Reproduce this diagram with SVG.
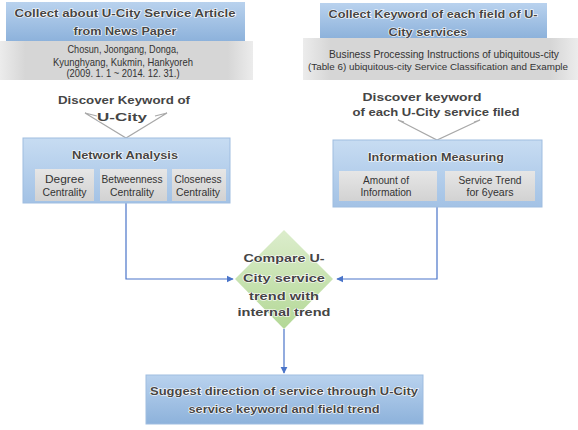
<svg xmlns="http://www.w3.org/2000/svg" width="578" height="430" viewBox="0 0 578 430">
<defs>
<linearGradient id="blue" x1="0" y1="0" x2="0" y2="1"><stop offset="0" stop-color="#b9d2ee"/><stop offset="1" stop-color="#8db2db"/></linearGradient>
<linearGradient id="blue2" x1="0" y1="0" x2="0" y2="1"><stop offset="0" stop-color="#c7dcf2"/><stop offset="1" stop-color="#a3c2e5"/></linearGradient>
<linearGradient id="gray" x1="0" y1="0" x2="1" y2="0"><stop offset="0" stop-color="#ececec"/><stop offset="0.1" stop-color="#d6d6d6"/><stop offset="0.9" stop-color="#d6d6d6"/><stop offset="1" stop-color="#ececec"/></linearGradient>
<linearGradient id="sub" x1="0" y1="0" x2="0" y2="1"><stop offset="0" stop-color="#e6e6e6"/><stop offset="1" stop-color="#d2d2d2"/></linearGradient>
<linearGradient id="green" x1="0" y1="0" x2="0" y2="1"><stop offset="0" stop-color="#dcedcc"/><stop offset="1" stop-color="#b3d896"/></linearGradient>
<marker id="ah" viewBox="0 0 10 10" refX="9" refY="5" markerWidth="6" markerHeight="6" orient="auto"><path d="M0,0 L10,5 L0,10 z" fill="#4a74c9"/></marker>
</defs>
<style>
.t{font-family:"Liberation Sans",Arial,sans-serif;font-weight:bold;fill:#454545;stroke:#ffffff;stroke-width:1.2;paint-order:stroke;text-anchor:middle}
.h{font-size:11px}
.n{font-family:"Liberation Sans",Arial,sans-serif;fill:#333;font-size:11px;text-anchor:middle}
.d{font-size:11.5px}
.c{fill:none;stroke:#4a74c9;stroke-width:1.2}
.chev{fill:none;stroke:#a8a8a8;stroke-width:1.2}
</style>
<g id="connectors">
<path class="c" d="M126,203 V279 H233" marker-end="url(#ah)"/>
<path class="c" d="M437,207 V279 H337" marker-end="url(#ah)"/>
<path class="c" d="M284,329 V373" marker-end="url(#ah)"/>
</g>
<g id="chevron-left">
<path class="chev" d="M97,116 L85,113 L126,138 L167,113 L155,116"/>
<text class="t h" x="124" y="104" textLength="132" lengthAdjust="spacingAndGlyphs">Discover Keyword of</text>
<text class="t h" x="122" y="121" textLength="50" lengthAdjust="spacingAndGlyphs">U-City</text>
</g>
<g id="chevron-right">
<path class="chev" d="M404,122 L398,120 L437,140 L480,120 L474,122"/>
<text class="t h" x="422" y="101" textLength="119" lengthAdjust="spacingAndGlyphs">Discover keyword</text>
<text class="t h" x="436" y="116" textLength="167" lengthAdjust="spacingAndGlyphs">of each U-City service filed</text>
</g>
<g id="collect-news">
<rect x="6" y="2" width="239" height="39" fill="url(#blue)"/>
<text class="t h" x="125" y="17" textLength="221" lengthAdjust="spacingAndGlyphs">Collect about U-City Service Article</text>
<text class="t h" x="125" y="35" textLength="103" lengthAdjust="spacingAndGlyphs">from News Paper</text>
</g>
<g id="news-sources">
<rect x="0" y="41" width="253" height="39" fill="url(#gray)"/>
<text class="n" x="123" y="53" textLength="111" lengthAdjust="spacingAndGlyphs">Chosun, Joongang, Donga,</text>
<text class="n" x="123" y="66" textLength="140" lengthAdjust="spacingAndGlyphs">Kyunghyang, Kukmin, Hankyoreh</text>
<text class="n" x="123" y="77" textLength="113" lengthAdjust="spacingAndGlyphs">(2009. 1. 1 ~ 2014. 12. 31.)</text>
</g>
<g id="collect-keyword">
<rect x="320" y="3" width="227" height="35" fill="url(#blue)"/>
<text class="t h" x="433" y="18" textLength="209" lengthAdjust="spacingAndGlyphs">Collect Keyword of each field of U-</text>
<text class="t h" x="428" y="36" textLength="79" lengthAdjust="spacingAndGlyphs">City services</text>
</g>
<g id="keyword-sources">
<rect x="303" y="38" width="275" height="42" fill="url(#gray)"/>
<text class="n" x="444" y="58" textLength="230" lengthAdjust="spacingAndGlyphs">Business Processing Instructions of ubiquitous-city</text>
<text class="n" x="438" y="70" style="font-size:9.5px" textLength="260" lengthAdjust="spacingAndGlyphs">(Table 6) ubiquitous-city Service Classification and Example</text>
</g>
<g id="network-analysis">
<rect x="23" y="138" width="207" height="65" fill="url(#blue2)" stroke="#9fbde0" stroke-width="1"/>
<text class="t h" x="125" y="159" textLength="106" lengthAdjust="spacingAndGlyphs">Network Analysis</text>
<rect x="35" y="169" width="59" height="32" fill="url(#sub)"/>
<text class="n" x="64.5" y="183" textLength="39" lengthAdjust="spacingAndGlyphs">Degree</text>
<text class="n" x="64.5" y="196" textLength="44" lengthAdjust="spacingAndGlyphs">Centrality</text>
<rect x="100" y="169" width="67" height="32" fill="url(#sub)"/>
<text class="n" x="132" y="183" textLength="61" lengthAdjust="spacingAndGlyphs">Betweenness</text>
<text class="n" x="132" y="196" textLength="44" lengthAdjust="spacingAndGlyphs">Centrality</text>
<rect x="172" y="169" width="54" height="32" fill="url(#sub)"/>
<text class="n" x="198" y="183" textLength="47" lengthAdjust="spacingAndGlyphs">Closeness</text>
<text class="n" x="198" y="196" textLength="44" lengthAdjust="spacingAndGlyphs">Centrality</text>
</g>
<g id="information-measuring">
<rect x="333" y="140" width="209" height="67" fill="url(#blue2)" stroke="#9fbde0" stroke-width="1"/>
<text class="t h" x="436" y="161" textLength="136" lengthAdjust="spacingAndGlyphs">Information Measuring</text>
<rect x="339" y="171" width="98" height="30" fill="url(#sub)"/>
<text class="n" x="386" y="184" textLength="46" lengthAdjust="spacingAndGlyphs">Amount of</text>
<text class="n" x="386" y="196" textLength="51" lengthAdjust="spacingAndGlyphs">Information</text>
<rect x="445" y="171" width="90" height="30" fill="url(#sub)"/>
<text class="n" x="490" y="184" textLength="63" lengthAdjust="spacingAndGlyphs">Service Trend</text>
<text class="n" x="490" y="196" textLength="47" lengthAdjust="spacingAndGlyphs">for 6years</text>
</g>
<g id="compare">
<polygon points="284,230 333,279 284,329 235,279" fill="url(#green)"/>
<text class="t d" x="284" y="262" textLength="81" lengthAdjust="spacingAndGlyphs">Compare U-</text>
<text class="t d" x="284" y="282" textLength="82" lengthAdjust="spacingAndGlyphs">City service</text>
<text class="t d" x="284" y="300" textLength="70" lengthAdjust="spacingAndGlyphs">trend with</text>
<text class="t d" x="284" y="316" textLength="93" lengthAdjust="spacingAndGlyphs">internal trend</text>
</g>
<g id="suggest">
<rect x="146" y="375" width="277" height="49" fill="url(#blue)" stroke="#9fbde0" stroke-width="1"/>
<text class="t h" x="284" y="395" textLength="268" lengthAdjust="spacingAndGlyphs">Suggest direction of service through U-City</text>
<text class="t h" x="284" y="413" textLength="191" lengthAdjust="spacingAndGlyphs">service keyword and field trend</text>
</g>
</svg>
